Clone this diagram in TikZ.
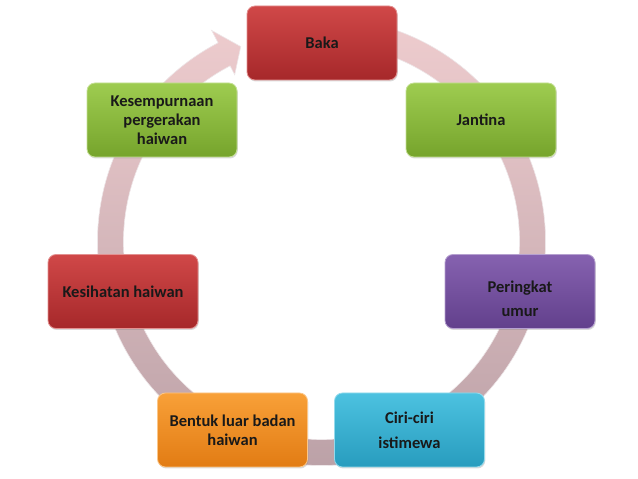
\documentclass[tikz,border=0pt]{standalone}
\usepackage{fontspec}
\setmainfont{Carlito}
\usetikzlibrary{shadows}

\definecolor{ringtop}{RGB}{238,204,206}
\definecolor{ringbot}{RGB}{186,160,166}
\definecolor{redtop}{RGB}{208,72,72}
\definecolor{redbot}{RGB}{166,40,42}
\definecolor{greentop}{RGB}{158,204,80}
\definecolor{greenbot}{RGB}{118,164,44}
\definecolor{purpletop}{RGB}{134,98,176}
\definecolor{purplebot}{RGB}{98,64,140}
\definecolor{bluetop}{RGB}{76,194,224}
\definecolor{bluebot}{RGB}{40,156,190}
\definecolor{orangetop}{RGB}{248,160,56}
\definecolor{orangebot}{RGB}{226,124,20}

\tikzset{
  box/.style={rounded corners=8pt, minimum width=150pt, minimum height=74pt,
    align=center, text=black!90, line width=0.8pt,
    font=\fontsize{16.5}{19}\selectfont\bfseries,
    drop shadow={opacity=0.3, shadow xshift=0.8pt, shadow yshift=-1.5pt}},
  redbox/.style={box, top color=redtop, bottom color=redbot, draw=redtop!60!white},
  greenbox/.style={box, top color=greentop, bottom color=greenbot, draw=greentop!60!white},
  purplebox/.style={box, top color=purpletop, bottom color=purplebot, draw=purpletop!60!white},
  bluebox/.style={box, top color=bluetop, bottom color=bluebot, draw=bluetop!60!white},
  orangebox/.style={box, top color=orangetop, bottom color=orangebot, draw=orangetop!60!white},
  ring/.style={top color=ringtop, bottom color=ringbot, draw=white!75!ringbot, line width=0.6pt}
}

\begin{document}
\begin{tikzpicture}[x=1pt,y=1pt]
        \useasboundingbox (0,0) rectangle (638,479);
        \coordinate (c) at (321.5,237.5);

        \begin{scope}[shift={(c)}]
        \path[ring] (80:224) arc[start angle=80, end angle=-242.5, radius=224]
            -- (117.5:238) -- (112.5:211) -- (117.5:188) -- (117.5:198)
            arc[start angle=-242.5, end angle=80, radius=198] -- cycle;
        \end{scope}

        \node[redbox] (baka) at (322,436) {Baka};
        \node[greenbox] (jantina) at (481,359) {Jantina};
        \node[purplebox] (umur) at (520,187.5) {\rule{0pt}{27pt}Peringkat\\[5pt]umur};
        \node[bluebox] (ciri) at (409.5,49) {Ciri-ciri\\[6pt]istimewa};
        \node[orangebox] (bentuk) at (232.5,49) {Bentuk luar badan\\haiwan};
        \node[redbox] (kesihatan) at (123,187.5) {Kesihatan haiwan};
        \node[greenbox] (gerak) at (162,359) {Kesempurnaan\\pergerakan\\haiwan};
    \end{tikzpicture}
\end{document}
